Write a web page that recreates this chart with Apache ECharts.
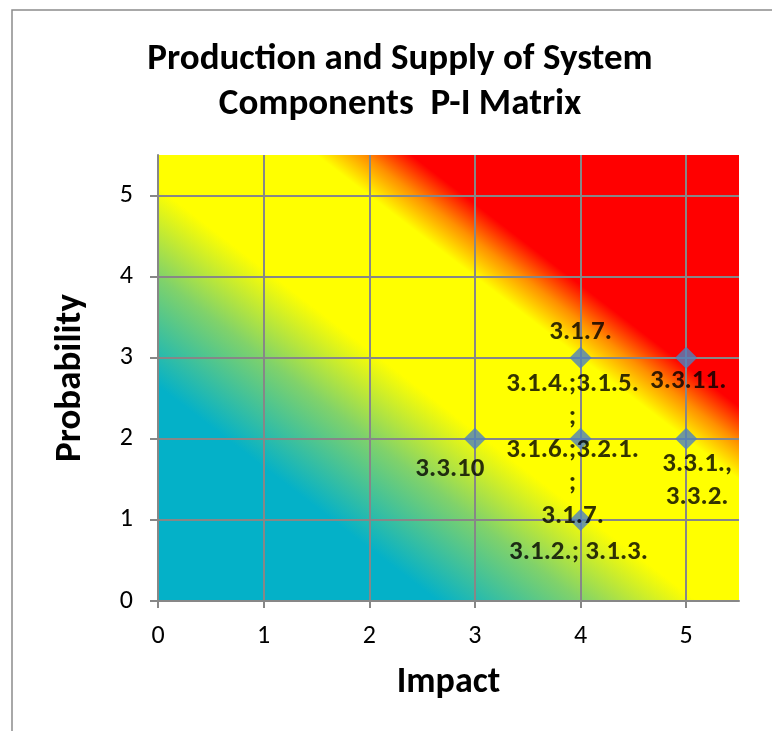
<!DOCTYPE html>
<html>
<head>
<meta charset="utf-8">
<script src="https://cdn.jsdelivr.net/npm/echarts@6/dist/echarts.min.js"></script>
<style>html,body{margin:0;padding:0;background:#fff;}#chart{width:772px;height:731px;}</style>
</head>
<body>
<div id="chart"></div>
<script>
// ---- data ----
var impact = [3, 4, 4, 4, 5, 5];
var probability = [2, 3, 2, 1, 3, 2];
var pointLabels = [
  '3.3.10',
  '3.1.7.',
  '3.1.4.;3.1.5.\n;\n3.1.6.;3.2.1.\n;\n3.1.7.',
  '3.1.2.; 3.1.3.',
  '3.3.11.',
  '3.3.1.,\n3.3.2.'
];
var tickValues = [0, 1, 2, 3, 4, 5];
var titleText = 'Production and Supply of System\nComponents  P-I Matrix';
var xName = 'Impact';
var yName = 'Probability';

// ---- style ----
var FONT = 'Carlito, Lato, sans-serif';
var GRID = {left: 158, top: 155, width: 581, height: 446};
var AXMAX = 5.5;
var labelOffsets = [[-25, 30], [0, -25], [-8, 11], [-2, 32], [2, 24], [11, 42]];
// colour stops along impact+probability
var bgStops = [
  [0, '#04b1c8'], [2.65, '#04b1c8'], [4.0, '#80d26a'], [5.1, '#ffff00'],
  [7.0, '#ffff00'], [7.45, '#ff9000'], [7.9, '#ff0000'], [11, '#ff0000']
];

var ux = GRID.width / AXMAX, uy = GRID.height / AXMAX;
var x0 = GRID.left, y0 = GRID.top + GRID.height;
var gx = 1 / ux, gy = -1 / uy;
var S = 11;
var t = S / (gx * gx + gy * gy);
var grad = new echarts.graphic.LinearGradient(
  x0, y0, x0 + t * gx, y0 + t * gy,
  bgStops.map(function (s) { return {offset: s[0] / S, color: s[1]}; }),
  true
);

var chart = echarts.init(document.getElementById('chart'), null, {renderer: 'canvas'});
var seriesData = impact.map(function (v, i) {
  return {
    value: [v, probability[i]],
    label: {offset: labelOffsets[i]}
  };
});

var gridLineStyle = {color: '#878787', width: 2};
chart.setOption({
  animation: false,
  backgroundColor: '#fff',
  graphic: [{
    type: 'rect', shape: {x: 12, y: 10, width: 900, height: 900},
    style: {fill: 'none', stroke: '#8c8c8c', lineWidth: 1.5}, z: -10, silent: true
  }],
  title: {
    text: titleText,
    left: 395, top: 32, textAlign: 'center',
    textStyle: {fontFamily: FONT, fontWeight: 'bold', fontSize: 37, lineHeight: 45, color: '#000'}
  },
  grid: {
    left: GRID.left, top: GRID.top, width: GRID.width, height: GRID.height,
    show: true, backgroundColor: grad, borderWidth: 0
  },
  xAxis: {
    type: 'value', min: 0, max: AXMAX, interval: 1,
    name: xName, nameLocation: 'middle', nameGap: 64,
    nameTextStyle: {fontFamily: FONT, fontWeight: 'bold', fontSize: 36, color: '#000'},
    axisLine: {show: true, lineStyle: gridLineStyle},
    axisTick: {show: true, length: 7, lineStyle: gridLineStyle, customValues: tickValues},
    axisLabel: {fontFamily: FONT, fontSize: 26, color: '#000', margin: 22, customValues: tickValues},
    splitLine: {show: true, lineStyle: gridLineStyle}
  },
  yAxis: {
    type: 'value', min: 0, max: AXMAX, interval: 1,
    name: yName, nameLocation: 'middle', nameGap: 69, nameRotate: 90,
    nameTextStyle: {fontFamily: FONT, fontWeight: 'bold', fontSize: 37, color: '#000'},
    axisLine: {show: true, lineStyle: gridLineStyle},
    axisTick: {show: true, length: 8, lineStyle: gridLineStyle, customValues: tickValues},
    axisLabel: {fontFamily: FONT, fontSize: 26, color: '#000', margin: 25, customValues: tickValues},
    splitLine: {show: true, lineStyle: gridLineStyle}
  },
  series: [{
    type: 'scatter',
    symbol: 'diamond',
    symbolSize: 22,
    itemStyle: {color: '#4f81bd'},
    data: seriesData,
    label: {
      show: true, position: 'inside',
      formatter: function (p) { return pointLabels[p.dataIndex]; },
      fontFamily: FONT, fontWeight: 'bold', fontSize: 27, lineHeight: 33, color: '#000', align: 'center',
      textBorderWidth: 0, textBorderColor: 'transparent'
    },
    z: 5
  }]
});
</script>
</body>
</html>
